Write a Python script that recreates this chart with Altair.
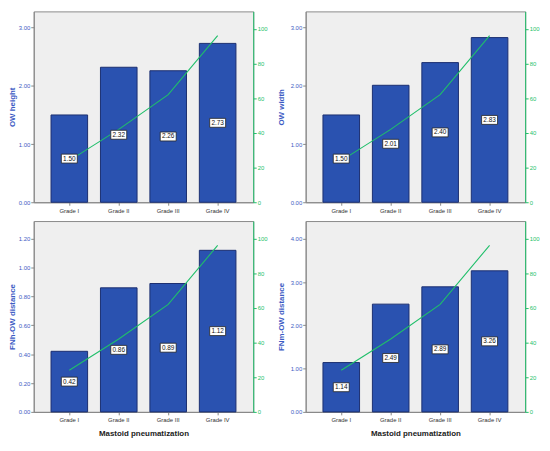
import altair as alt
import pandas as pd

grades = ["Grade I", "Grade II", "Grade III", "Grade IV"]
ow_height = [1.50, 2.32, 2.26, 2.73]
ow_width = [1.50, 2.01, 2.40, 2.83]
fnh_ow = [0.42, 0.86, 0.89, 1.12]
fnm_ow = [1.14, 2.49, 2.89, 3.26]
cum_pct = [24, 42, 62, 96]

BAR = "#2a52b0"
BAR_STROKE = "#1b2f70"
BLUE_TXT = "#3d5cc4"
GREEN = "#1fbf6a"
FONT = "Liberation Sans"

def panel(values, title, dmax, ticks, fmt, bottom, left_ext, tpad, h):
    df = pd.DataFrame({"grade": grades, "value": values, "half": [v / 2 for v in values],
                       "label": [f"{v:.2f}" for v in values], "pct": cum_pct})
    xaxis = alt.Axis(title="Mastoid pneumatization" if bottom else None, labelAngle=0,
                     labelFont=FONT, labelFontSize=6, labelColor="#333333",
                     titleFont=FONT, titleFontSize=8, titleFontWeight="bold", titleColor="#222222",
                     domainColor="#888888", tickColor="#888888", tickSize=3, labelPadding=2,
                     titlePadding=5, minExtent=13, maxExtent=13)
    x = alt.X("grade:N", sort=grades, axis=xaxis,
              scale=alt.Scale(paddingInner=0.26, paddingOuter=0.35))
    yscale = alt.Scale(domain=[0, dmax], nice=False, zero=True)
    yaxis = alt.Axis(title=title, values=ticks, format=fmt, grid=False,
                     labelFont=FONT, labelFontSize=6, labelColor=BLUE_TXT,
                     titleFont=FONT, titleFontSize=8, titleFontWeight="bold", titleColor=BLUE_TXT,
                     domainColor="#888888", tickColor="#888888", tickSize=3, labelPadding=1,
                     titlePadding=tpad, minExtent=left_ext, maxExtent=left_ext)
    bars = alt.Chart(df).mark_bar(color=BAR, stroke=BAR_STROKE, strokeWidth=1).encode(
        x=x, y=alt.Y("value:Q", scale=yscale, axis=yaxis))
    line = alt.Chart(df).mark_line(color=GREEN, strokeWidth=1.1).encode(
        x=x, y=alt.Y("pct:Q", scale=alt.Scale(domain=[0, 110], nice=False),
                     axis=alt.Axis(title=None, orient="right", values=[0, 20, 40, 60, 80, 100],
                                   grid=False, labelFont=FONT, labelFontSize=6, labelColor=GREEN,
                                   domainColor=GREEN, tickColor=GREEN, tickSize=3, labelPadding=1,
                                   minExtent=16, maxExtent=16)))
    boxes = alt.Chart(df).mark_point(
        shape="M-1,-0.56L1,-0.56L1,0.56L-1,0.56Z", size=260, filled=True,
        fill="white", stroke="#222222", strokeWidth=0.8, opacity=1).encode(
        x=x, y=alt.Y("half:Q", scale=yscale, axis=None))
    texts = alt.Chart(df).mark_text(font=FONT, fontSize=6.5, color="#111111").encode(
        x=x, y=alt.Y("half:Q", scale=yscale, axis=None), text="label:N")
    return alt.layer(bars, line, boxes, texts).resolve_scale(y="independent").properties(
        width=222, height=h)

p1 = panel(ow_height, "OW height", 3.28, [0, 1, 2, 3], ".2f", False, 16, 1, 193)
p2 = panel(ow_width, "OW width", 3.28, [0, 1, 2, 3], ".2f", False, 17, 3, 193)
p3 = panel(fnh_ow, "FNh-OW distance", 1.323, [0, 0.2, 0.4, 0.6, 0.8, 1.0, 1.2], ".2f", True, 16, 1, 193)
p4 = panel(fnm_ow, "FNm-OW distance", 4.41, [0, 1, 2, 3, 4], ".2f", True, 17, 3, 193)

chart = alt.vconcat(
    alt.hconcat(p1, p2, spacing=7),
    alt.hconcat(p3, p4, spacing=7),
    spacing=4,
).properties(padding=0, background="white").configure_view(
    fill="#efefef", stroke="#8a8a8a", strokeWidth=1
)

chart.save("out.html", embed_options={"renderer": "svg", "actions": False})
